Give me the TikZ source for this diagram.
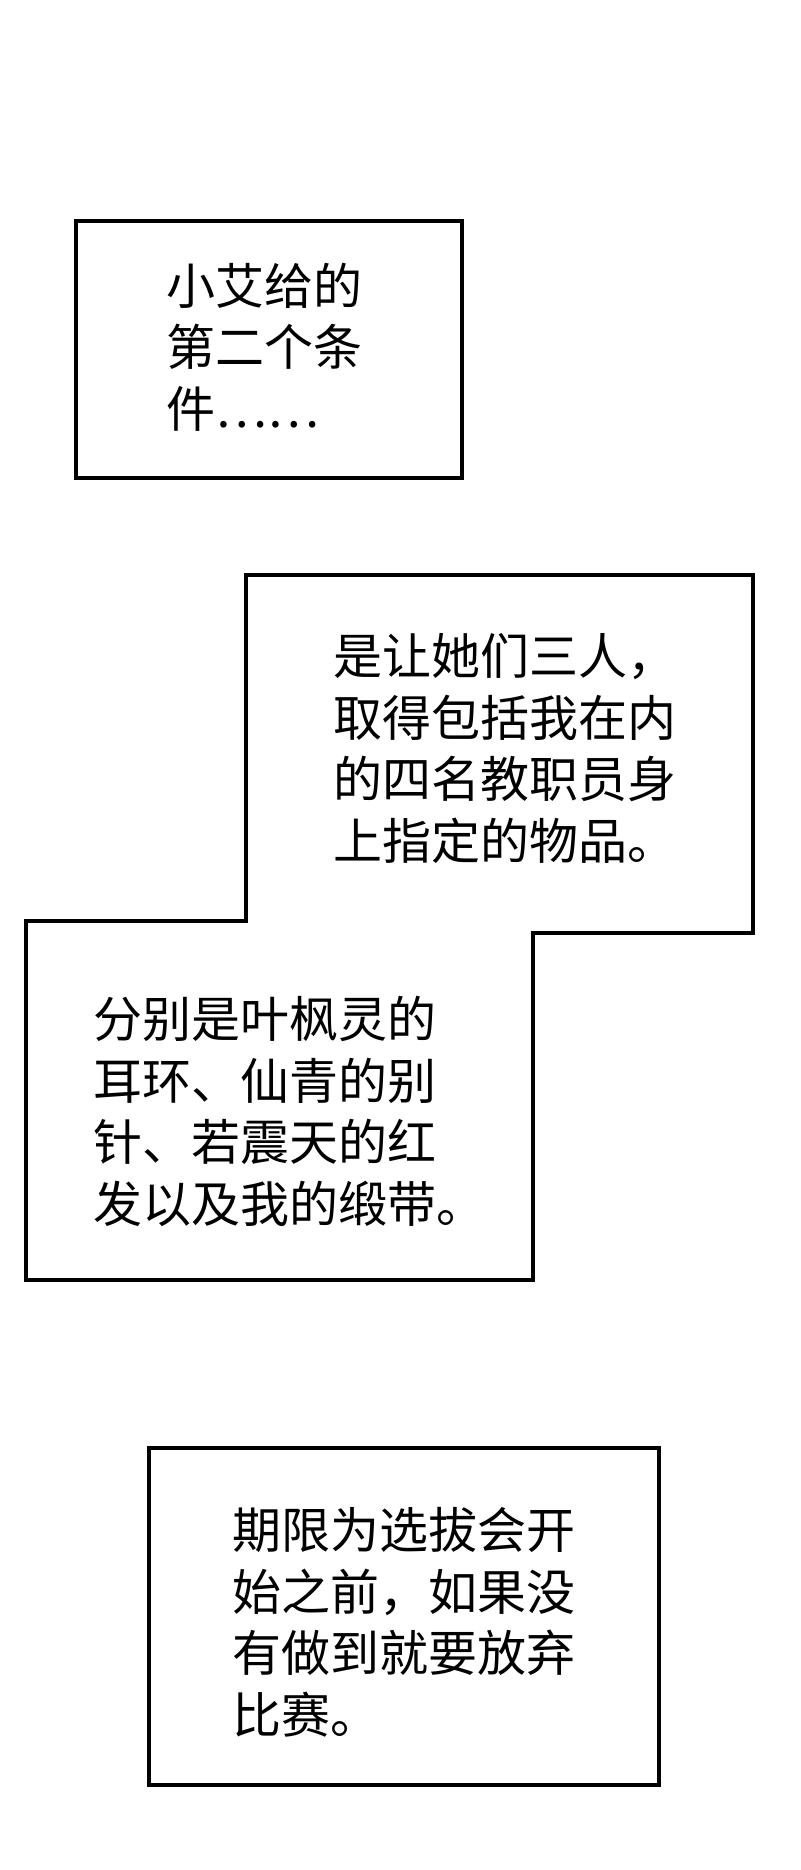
\documentclass[tikz,border=0pt]{standalone}
\usepackage{fontspec}
\newfontfamily\cjk{Noto Sans CJK SC}
\usepackage{tikz}

\begin{document}
\begin{tikzpicture}[x=1pt,y=-1pt,
	kasten/.style={draw=black,line width=3.5pt},
	sprechtext/.style={anchor=base west,align=left,inner sep=0pt,font={\cjk\fontsize{49}{61.5}\selectfont}}]
	\useasboundingbox[fill=white] (0,0) rectangle (800,1870);
	% Kasten 1
	\draw[kasten] (76,221) rectangle (462,478);
	\node[sprechtext] (t1) at (166,427) {小艾给的\\第二个条\\件……};
	% Kasten 2 (gestuft)
	\draw[kasten] (246,575) -- (753,575) -- (753,933) -- (533,933) -- (533,1280) -- (26,1280) -- (26,921) -- (246,921) -- cycle;
	\node[sprechtext] (t2) at (333,859) {是让她们三人，\\取得包括我在内\\的四名教职员身\\上指定的物品。};
	\node[sprechtext] (t3) at (93,1222) {分别是叶枫灵的\\耳环、仙青的别\\针、若震天的红\\发以及我的缎带。};
	% Kasten 3
	\draw[kasten] (149,1448) rectangle (659,1785);
	\node[sprechtext] (t4) at (232,1733) {期限为选拔会开\\始之前，如果没\\有做到就要放弃\\比赛。};
\end{tikzpicture}
\end{document}
